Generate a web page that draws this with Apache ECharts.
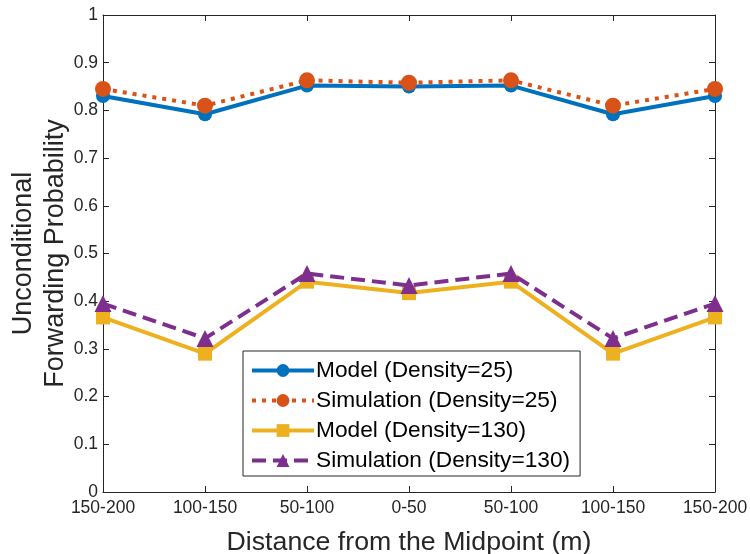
<!DOCTYPE html>
<html>
<head>
<meta charset="utf-8">
<script src="https://cdn.jsdelivr.net/npm/echarts@6/dist/echarts.min.js"></script>
<style>
  html, body { margin: 0; padding: 0; background: #fff; }
  #chart { width: 750px; height: 554px; }
</style>
</head>
<body>
<div id="chart"></div>
<script>
// Distance bins, left to right across the road segment
const categories = ['150-200', '100-150', '50-100', '0-50', '50-100', '100-150', '150-200'];

// Unconditional forwarding probability per bin
const model25 = [0.830, 0.792, 0.852, 0.850, 0.852, 0.792, 0.830];
const sim25   = [0.845, 0.810, 0.863, 0.858, 0.863, 0.810, 0.845];
const model130 = [0.366, 0.290, 0.441, 0.417, 0.441, 0.290, 0.366];
const sim130   = [0.395, 0.322, 0.458, 0.433, 0.458, 0.322, 0.395];

const seriesNames = [
  'Model (Density=25)',
  'Simulation (Density=25)',
  'Model (Density=130)',
  'Simulation (Density=130)'
];

const axisColor = '#262626';
const fontFamily = '"Liberation Sans", Arial, Helvetica, sans-serif';

function pairs(values) {
  return values.map((v, i) => [i, v]);
}

const chart = echarts.init(document.getElementById('chart'), null, { renderer: 'canvas' });

const hiddenAxisCommon = {
  axisLine: { show: true, onZero: false, lineStyle: { color: axisColor, width: 1 } },
  axisTick: { show: true, inside: true, length: 6, lineStyle: { color: axisColor } },
  axisLabel: { show: false },
  splitLine: { show: false }
};

chart.setOption({
  animation: false,
  backgroundColor: '#ffffff',
  textStyle: { fontFamily: fontFamily },
  grid: {
    left: 103, right: 35, top: 15, bottom: 62,
    containLabel: false, outerBoundsMode: 'none'
  },
  xAxis: [
    {
      type: 'value', min: 0, max: 6, interval: 1, position: 'bottom',
      name: 'Distance from the Midpoint (m)',
      nameLocation: 'middle', nameGap: 37, nameMoveOverlap: false,
      nameTextStyle: { fontSize: 26.7, color: axisColor, fontFamily: fontFamily },
      axisLine: { show: true, onZero: false, lineStyle: { color: axisColor, width: 1 } },
      axisTick: { show: true, inside: true, length: 6, lineStyle: { color: axisColor } },
      axisLabel: {
        fontSize: 17.5, color: axisColor, margin: 7, fontFamily: fontFamily,
        formatter: v => categories[Math.round(v)] || ''
      },
      splitLine: { show: false }
    },
    Object.assign({ type: 'value', min: 0, max: 6, interval: 1, position: 'top' }, hiddenAxisCommon)
  ],
  yAxis: [
    {
      type: 'value', min: 0, max: 1, interval: 0.1, position: 'left',
      name: 'Unconditional\nForwarding Probability',
      nameLocation: 'middle', nameGap: 31, nameRotate: 90, nameMoveOverlap: false,
      nameTextStyle: { fontSize: 27, color: axisColor, lineHeight: 32, fontFamily: fontFamily },
      axisLine: { show: true, onZero: false, lineStyle: { color: axisColor, width: 1 } },
      axisTick: { show: true, inside: true, length: 6, lineStyle: { color: axisColor } },
      axisLabel: {
        fontSize: 17.5, color: axisColor, margin: 5, fontFamily: fontFamily,
        formatter: v => String(Math.round(v * 10) / 10)
      },
      splitLine: { show: false }
    },
    Object.assign({ type: 'value', min: 0, max: 1, interval: 0.1, position: 'right' }, hiddenAxisCommon)
  ],
  legend: {
    orient: 'vertical',
    left: 243, top: 351,
    padding: [8, 10, 4, 7],
    itemGap: 7,
    itemWidth: 62, itemHeight: 16,
    backgroundColor: '#ffffff',
    borderColor: axisColor, borderWidth: 1,
    lineStyle: { width: 4 },
    textStyle: {
      fontSize: 22.7, color: '#000', fontFamily: fontFamily,
      padding: [0, 0, 0, -3]
    },
    data: seriesNames
  },
  series: [
    {
      name: seriesNames[0], type: 'line', data: pairs(model25),
      symbol: 'circle', symbolSize: 14,
      lineStyle: { color: '#0072BD', width: 4 },
      itemStyle: { color: '#0072BD' }, z: 2
    },
    {
      name: seriesNames[1], type: 'line', data: pairs(sim25),
      symbol: 'circle', symbolSize: 16,
      lineStyle: { color: '#D95319', width: 4, type: [4, 6], cap: 'butt' },
      itemStyle: { color: '#D95319' }, z: 3
    },
    {
      name: seriesNames[2], type: 'line', data: pairs(model130),
      symbol: 'rect', symbolSize: 14,
      lineStyle: { color: '#EDB120', width: 4 },
      itemStyle: { color: '#EDB120' }, z: 2
    },
    {
      name: seriesNames[3], type: 'line', data: pairs(sim130),
      symbol: 'triangle', symbolSize: 17,
      lineStyle: { color: '#7E2F8E', width: 4, type: [14, 7] },
      itemStyle: { color: '#7E2F8E' }, z: 3
    }
  ]
});
</script>
</body>
</html>
